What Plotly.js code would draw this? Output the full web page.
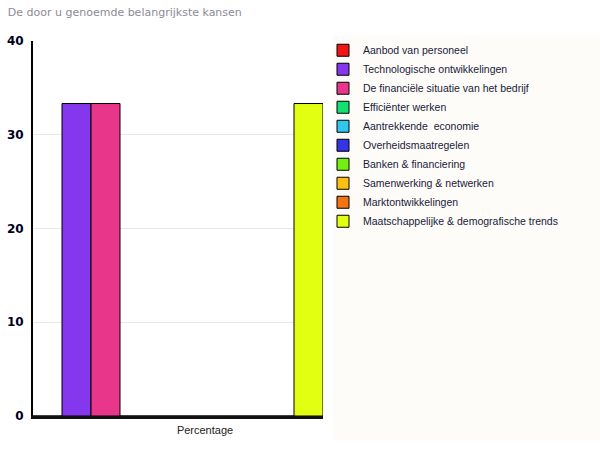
<!DOCTYPE html>
<html>
<head>
<meta charset="utf-8">
<script src="https://cdn.plot.ly/plotly-3.0.1.min.js"></script>
<style>html,body{margin:0;padding:0;background:#fff;}#chart{width:600px;height:450px;}</style>
</head>
<body>
<div id="chart"></div>
<script>
const categories = ["Percentage"];
const seriesNames = [
  "Aanbod van personeel",
  "Technologische ontwikkelingen",
  "De financiële situatie van het bedrijf",
  "Efficiënter werken",
  "Aantrekkende  economie",
  "Overheidsmaatregelen",
  "Banken & financiering",
  "Samenwerking & netwerken",
  "Marktontwikkelingen",
  "Maatschappelijke & demografische trends"
];
const seriesValues = [0, 33.33, 33.33, 0, 0, 0, 0, 0, 0, 33.33];
const seriesColors = ["#F01616", "#8437EC", "#E8368A", "#14E072", "#32C6EE", "#3434E6", "#72F012", "#FFC014", "#F27414", "#E2FF12"];
const yTicks = [0, 10, 20, 30, 40];

const traces = seriesNames.map((n, i) => ({
  type: "bar",
  name: n,
  x: categories,
  y: [seriesValues[i]],
  marker: { color: seriesColors[i], line: { color: "#000", width: 1 } },
  hoverinfo: "none"
}));

const layout = {
  width: 600, height: 450,
  margin: { l: 33, r: 277, t: 41, b: 34 },
  paper_bgcolor: "#fff",
  plot_bgcolor: "#fff",
  barmode: "group",
  bargap: 0,
  bargroupgap: 0,
  title: { text: "De door u genoemde belangrijkste kansen", x: 0.013, xanchor: "left", y: 0.982, yanchor: "top",
    font: { family: "DejaVu Sans", size: 11, color: "#8c8a96" } },
  xaxis: {
    type: "category",
    showgrid: false,
    showline: true, linecolor: "#111", linewidth: 3,
    ticks: "", ticklabelshift: 27, ticklabelstandoff: 2,
    tickfont: { family: "Liberation Sans", size: 11, color: "#222" },
    zeroline: false, fixedrange: true
  },
  yaxis: {
    range: [0, 40], tickvals: yTicks, ticktext: yTicks.map(String),
    showgrid: true, gridcolor: "#e8e8e8", gridwidth: 1,
    showline: true, linecolor: "#000", linewidth: 2,
    ticks: "", ticklabelstandoff: 5,
    tickfont: { family: "DejaVu Sans", size: 12, color: "#000022", weight: "bold" },
    zeroline: false, fixedrange: true
  },
  shapes: [{
    type: "rect", xref: "paper", yref: "paper", layer: "below",
    x0: 1.0345, x1: 1.96, y0: -0.064, y1: 1.016,
    fillcolor: "#FDFCF8", line: { width: 0 }
  }],
  showlegend: true,
  legend: {
    x: 1.0, xanchor: "left", y: 1.014, yanchor: "top",
    bgcolor: "rgba(0,0,0,0)", borderwidth: 0,
    font: { family: "Liberation Sans", size: 10.5, color: "#1a1a3a" },
    itemclick: false, itemdoubleclick: false, tracegroupgap: 0
  }
};

Plotly.newPlot("chart", traces, layout, { displayModeBar: false, staticPlot: true });
</script>
</body>
</html>
